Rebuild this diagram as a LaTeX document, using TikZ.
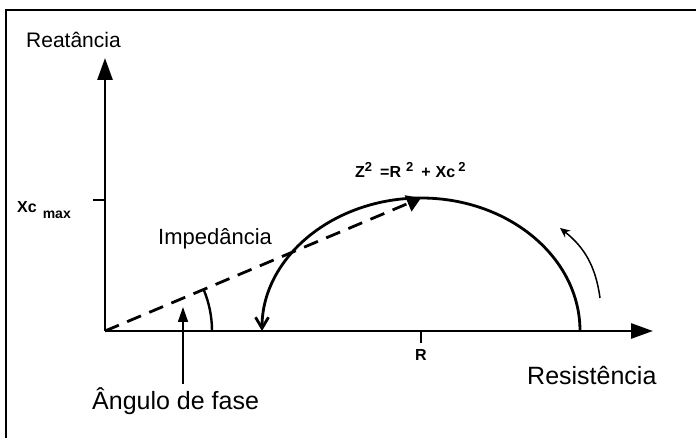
\documentclass[tikz,border=0pt]{standalone}
\usepackage{fontspec}
\setmainfont{Liberation Sans}
\usetikzlibrary{arrows.meta,positioning}

\newcommand{\sqr}{\raisebox{6pt}{\fontsize{13}{15}\selectfont 2}}

\begin{document}
\begin{tikzpicture}[x=1pt,y=1pt,
    every node/.style={inner sep=0pt},
    axis/.style={line width=2.8pt, -{Triangle[length=22pt,width=15pt]}},
    tickmark/.style={line width=2.2pt},
    curve/.style={line width=2.8pt, -{Straight Barb[length=11pt,width=13pt]}},
    zline/.style={line width=2.8pt, dash pattern=on 15pt off 9pt,
                  -{Triangle[length=14pt,width=17pt]}},
    pointer/.style={line width=1.5pt, -{Triangle[length=15pt,width=10pt]}},
    turn/.style={line width=1.5pt, -{Stealth[length=10pt,width=9pt]}},
    big/.style={font=\fontsize{25}{27}\selectfont},
    sym/.style={font=\bfseries\fontsize{16}{18}\selectfont}
]
\useasboundingbox[fill=white] (0,0) rectangle (696,438);
% frame
\draw[line width=2pt] (6,0) -- (6,428) -- (696,428);

% points
\coordinate (o) at (105,107);
\coordinate (ytip) at (105,380);
\coordinate (xtip) at (653,107);
\coordinate (xc) at (93,238);
\coordinate (xcax) at (105,238);
\coordinate (r) at (421,107);
\coordinate (rlow) at (421,95);
\coordinate (rfoot) at (580,107);
\coordinate (zend) at (421,240);
\coordinate (ang) at (183,131);
\coordinate (turnA) at (600,140);
\coordinate (turnB) at (560,210);

% axes
\draw[axis] (o) -- (ytip);
\draw[axis] (o) -- (xtip);
\draw[tickmark] (xc) -- (xcax);
\draw[tickmark] (r) -- (rlow);

% labels
\node[big, font=\fontsize{21}{23}\selectfont, anchor=base west] (reat) at (26,390) {Reatância};
\node[big, anchor=base west] (resist) at (527,53) {Resistência};
\node[big, font=\fontsize{22}{24}\selectfont, anchor=base west] (imp) at (158,193) {Impedância};
\node[big, anchor=base west] (fase) at (92,28) {Ângulo de fase};
\node[sym, anchor=base west] (xcmax) at (17,225) {Xc\hspace{6pt}\raisebox{-6pt}{\fontsize{14}{16}\selectfont max}};
\node[sym, below=6pt of rlow] (rlbl) {R};
\node[sym, anchor=base west] (formula) at (355,260) {Z\sqr\hspace{8pt}=R\hspace{5pt}\sqr\hspace{8pt}+\hspace{5pt}Xc\hspace{3pt}\sqr};

% semicircle and impedance
\draw[curve] (rfoot) arc[start angle=0, end angle=180, x radius=159, y radius=133];
\draw[zline] (o) -- (zend);
\draw[line width=2.4pt] (o) ++(107,0) arc[start angle=0, end angle=22.8, radius=107];

% pointers
\draw[pointer] (fase.north -| ang) ++(0,4) -- (ang);
\draw[turn] (turnA) to[bend right=22] (turnB);
\end{tikzpicture}
\end{document}
